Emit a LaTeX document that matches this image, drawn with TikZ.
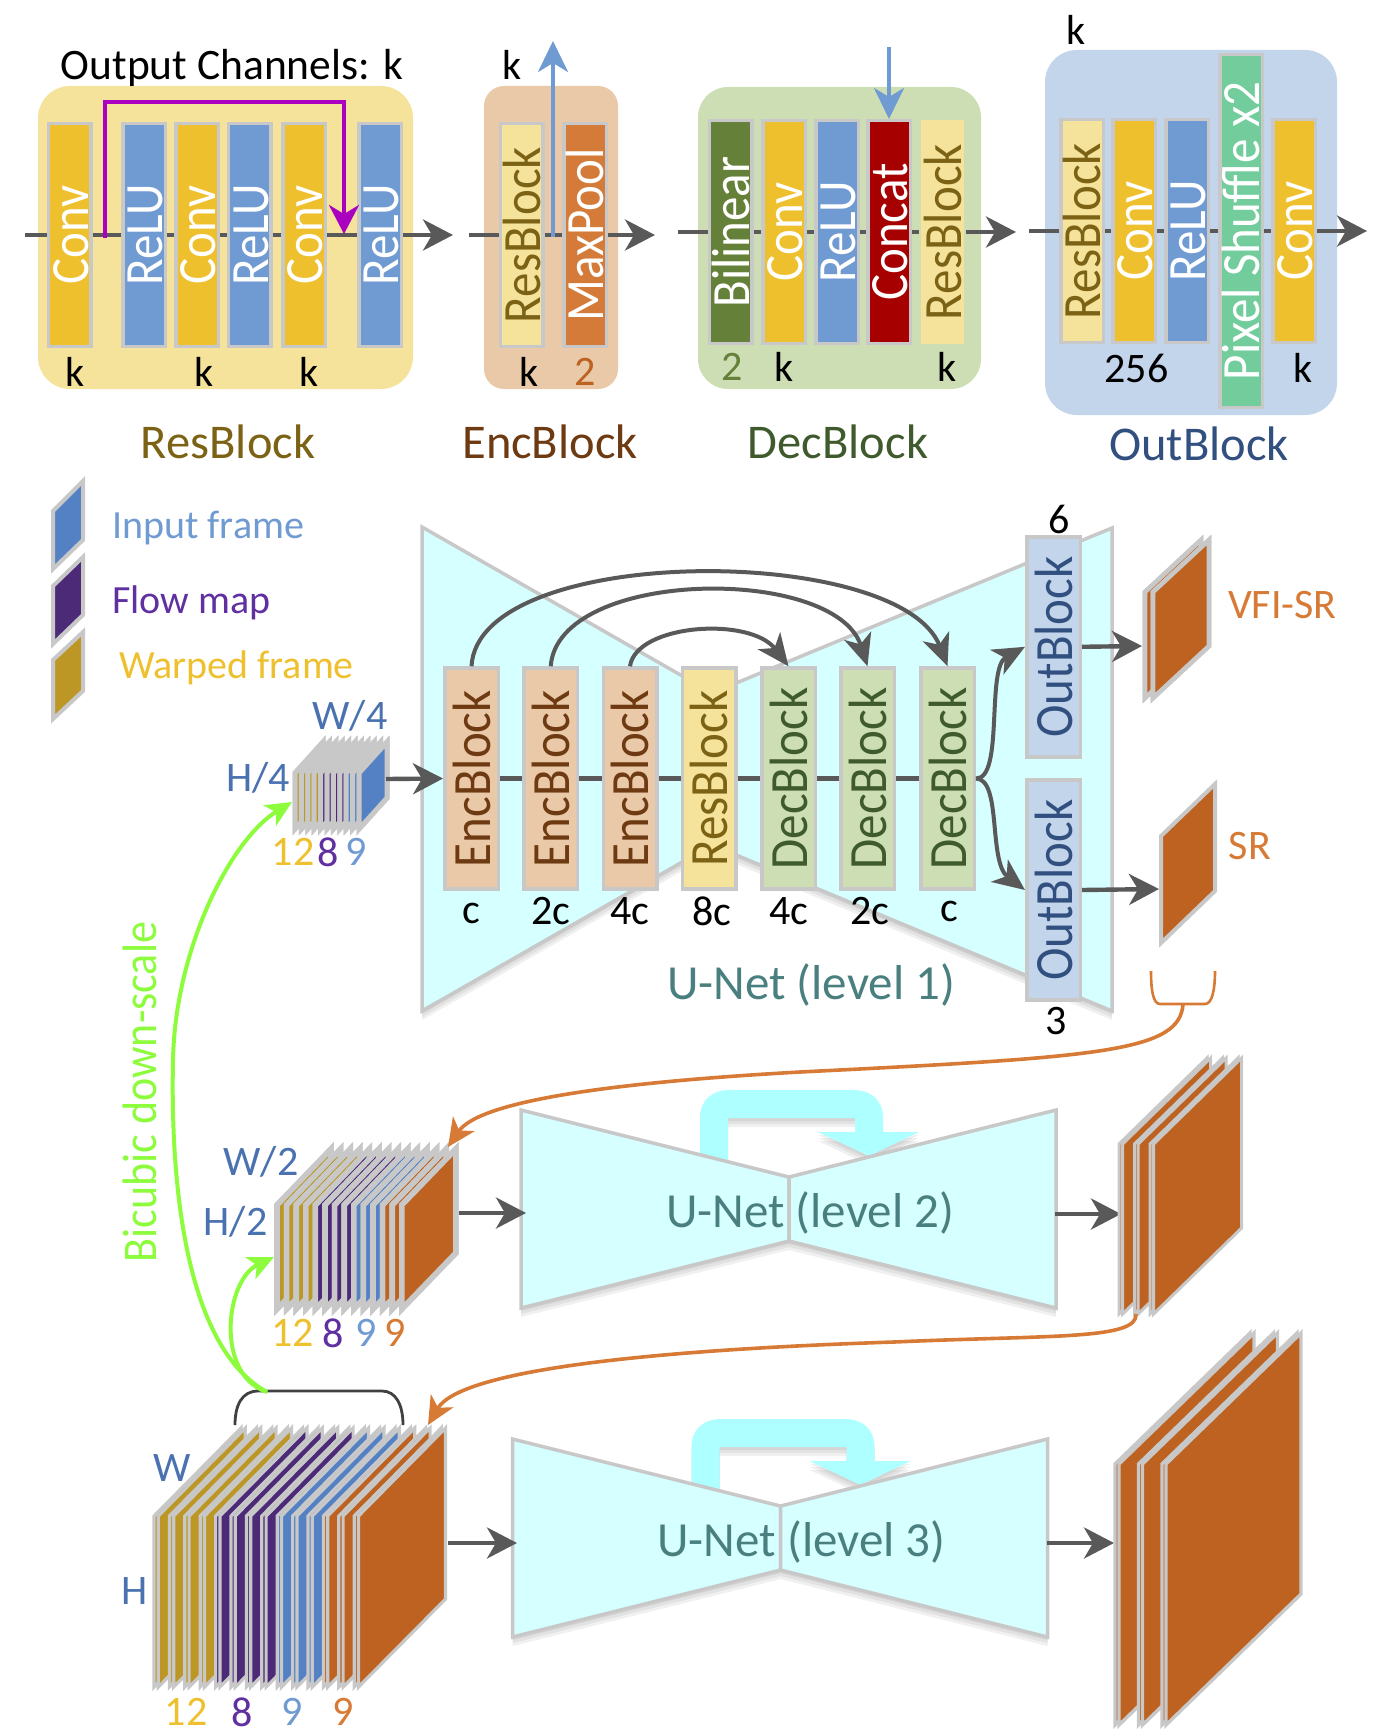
\documentclass[tikz,border=0pt]{standalone}
\usepackage{fontspec}
\usepackage{graphicx}
\usepackage{xcolor}
\usepackage{tikz}
\usetikzlibrary{calc,arrows.meta,positioning,shadows}
\setmainfont{Carlito}
\definecolor{convGold}{RGB}{239,192,46}
\definecolor{reluBlue}{RGB}{112,155,210}
\definecolor{resCream}{RGB}{246,227,155}
\definecolor{resText}{RGB}{123,98,21}
\definecolor{encPeach}{RGB}{234,201,169}
\definecolor{encText}{RGB}{110,58,18}
\definecolor{decSage}{RGB}{205,222,180}
\definecolor{decText}{RGB}{63,90,44}
\definecolor{decDark}{RGB}{100,128,57}
\definecolor{outSky}{RGB}{195,213,235}
\definecolor{outText}{RGB}{49,80,127}
\definecolor{poolOrange}{RGB}{212,123,57}
\definecolor{concatRed}{RGB}{166,0,0}
\definecolor{shuffleGreen}{RGB}{114,204,156}
\definecolor{skipPurple}{RGB}{170,0,192}
\definecolor{flowGray}{RGB}{89,89,89}
\definecolor{frameGray}{RGB}{200,200,200}
\definecolor{frameWarp}{RGB}{188,151,37}
\definecolor{frameFlow}{RGB}{76,42,120}
\definecolor{frameInput}{RGB}{84,129,196}
\definecolor{frameOut}{RGB}{189,98,32}
\definecolor{unetCyan}{RGB}{214,255,255}
\definecolor{skipCyan}{RGB}{174,255,255}
\definecolor{unetText}{RGB}{74,127,127}
\definecolor{dimBlue}{RGB}{74,114,176}
\definecolor{legendPurple}{RGB}{96,48,160}
\definecolor{arrowOrange}{RGB}{214,122,54}
\definecolor{scaleGreen}{RGB}{140,252,60}
\newcommand{\fsz}[1]{\fontsize{#1}{#1}\selectfont}
\newcommand{\barText}[1]{\rotatebox{90}{\scalebox{1}[1.1]{\rule{0pt}{.7em}\smash{#1}}}}
\newcommand{\frameStack}[9]{%
  \foreach \col [count=\n from 0] in {#8} {
    \pgfmathsetmacro{\fx}{#1+\n*#2}
    \pgfmathsetmacro{\gx}{\fx+#9}
    \filldraw[line width=#7pt, draw=frameGray, fill=\col] (\fx,#3) -- ++(#5,-#6) -- ++(0,#4) -- ++(-#5,#6) -- cycle;
    \filldraw[line width=#7pt, draw=frameGray, fill=\col] (\gx,#3) -- ++(#5,-#6) -- ++(0,#4) -- ++(-#5,#6) -- cycle;
  }}
\newcommand{\unetGlass}[2]{%
  \fill[skipCyan, softShadow] (700,1175) -- (700,1118) .. controls (700,1100) and (712,1090) .. (730,1090)
    -- (853,1090) .. controls (871,1090) and (883,1100) .. (883,1118) -- (883,1132) -- (919,1132) -- (869,1156)
    -- (818,1132) -- (855,1132) -- (855,1118) -- (728,1118) -- (728,1175) -- cycle;
  \filldraw[unetBody] (521,1110) -- (789,1177) -- (789,1241) -- (521,1308) -- cycle;
  \filldraw[unetBody] (1056,1110) -- (789,1177) -- (789,1241) -- (1056,1308) -- cycle;
  \node[unetLabel] (#1) at (810,1213) {#2};}
\tikzset{
  softShadow/.style={general shadow={fill=black,opacity=.06,shadow yshift=-3pt},general shadow={fill=black,opacity=.06,shadow yshift=-6pt},general shadow={fill=black,opacity=.06,shadow yshift=-9pt}},
  barNode/.style={draw=frameGray, line width=3.5pt, inner sep=0pt, minimum width=42.5pt, minimum height=222.5pt, font=\fsz{49}, text=white},
  wideBar/.style={barNode, minimum width=53.5pt, minimum height=221pt},
  convBar/.style={barNode, fill=convGold},
  reluBar/.style={barNode, fill=reluBlue},
  resBar/.style={barNode, fill=resCream, text=resText},
  encBar/.style={wideBar, fill=encPeach, text=encText},
  decBar/.style={wideBar, fill=decSage, text=decText},
  outBar/.style={wideBar, minimum height=220pt, fill=outSky, text=outText},
  flowLine/.style={flowGray, line width=4.4pt},
  flowArrow/.style={flowLine, -{Stealth[length=30pt,width=31pt,inset=9pt]}},
  skipArrow/.style={flowGray, line width=4pt, -{Stealth[length=32pt,width=28pt,inset=9pt]}},
  blueArrow/.style={reluBlue, line width=3.6pt, -{Stealth[length=31pt,width=30pt,inset=9pt]}},
  purpleArrow/.style={skipPurple, line width=3.6pt, -{Stealth[length=29pt,width=30pt,inset=9pt]}},
  orangeArrow/.style={arrowOrange, line width=3.6pt, -{Stealth[length=28pt,width=26pt,inset=8pt]}},
  greenArrow/.style={scaleGreen, line width=4pt, -{Stealth[length=26pt,width=24pt,inset=7pt]}},
  unetBody/.style={fill=unetCyan, draw=frameGray, line width=3.5pt, softShadow},
  unetLabel/.style={inner sep=0pt, text=unetText, font=\fsz{49}},
  sizeLabel/.style={inner sep=0pt, font=\fsz{42}, text=black},
  dimLabel/.style={sizeLabel, text=dimBlue},
  titleLabel/.style={inner sep=0pt, font=\fsz{48.5}},
  legendLabel/.style={inner sep=0pt, anchor=west, font=\fsz{40}},
}
\begin{document}
\begin{tikzpicture}[x=1pt,y=-1pt]
\useasboundingbox (0,0) rectangle (1383,1736);

% block panels
\fill[resCream, rounded corners=32pt] (38,86) rectangle (413,389);
\fill[encPeach, rounded corners=20pt] (484,86) rectangle (618,389);
\fill[decSage, rounded corners=30pt] (698,87) rectangle (981,389);
\fill[outSky, rounded corners=32pt] (1045,50) rectangle (1337,415);

% ResBlock
\node[convBar] (conv1) at (69.5,235) {\barText{Conv}};
\node[reluBar] (relu1) at (144,235) {\barText{ReLU}};
\node[convBar] (conv2) at (197,235) {\barText{Conv}};
\node[reluBar] (relu2) at (249.5,235) {\barText{ReLU}};
\node[convBar] (conv3) at (304,235) {\barText{Conv}};
\node[reluBar] (relu3) at (380,235) {\barText{ReLU}};
\coordinate (resIn) at (25,235);
\coordinate (resOut) at (453,235);
\coordinate (resTap) at (105,238);
\coordinate (resTop) at (344,102);
\coordinate (resMerge) at (344,234);
\draw[flowLine] (resIn) -- (conv1);
\foreach \a/\b in {conv1/relu1,relu1/conv2,conv2/relu2,relu2/conv3,conv3/relu3}
  \draw[flowLine] (\a) -- (\b);
\draw[flowArrow] (relu3) -- (resOut);
\draw[purpleArrow] (resTap) |- (resTop) -- (resMerge);

% EncBlock
\node[resBar] (encRes) at (521.5,235) {\barText{ResBlock}};
\node[barNode, fill=poolOrange] (encPool) at (585,235) {\barText{MaxPool}};
\coordinate (encIn) at (469,235);
\coordinate (encOut) at (655,235);
\coordinate (encTap) at (553,237);
\coordinate (encUp) at (553,41);
\draw[flowLine] (encIn) -- (encRes);
\draw[flowLine] (encRes) -- (encPool);
\draw[flowArrow] (encPool) -- (encOut);
\draw[blueArrow] (encTap) -- (encUp);

% DecBlock
\node[barNode, fill=decDark] (decBil) at (730.5,232) {\barText{Bilinear}};
\node[convBar] (decConv) at (784,232) {\barText{Conv}};
\node[reluBar] (decRelu) at (837,232) {\barText{ReLU}};
\node[barNode, fill=concatRed] (decCat) at (889,232) {\barText{Concat}};
\node[resBar, draw=none, minimum width=43pt, minimum height=223pt] (decRes) at (942.5,232) {\barText{ResBlock}};
\coordinate (decIn) at (678,232);
\coordinate (decOut) at (1016,232);
\coordinate (decDown) at (889,47);
\draw[flowLine] (decIn) -- (decBil);
\foreach \a/\b in {decBil/decConv,decConv/decRelu,decRelu/decCat,decCat/decRes}
  \draw[flowLine] (\a) -- (\b);
\draw[flowArrow] (decRes) -- (decOut);
\draw[blueArrow] (decDown) -- (decCat);

% OutBlock
\node[resBar] (outRes) at (1082,231) {\barText{ResBlock}};
\node[convBar] (outConv) at (1134,231) {\barText{Conv}};
\node[reluBar] (outRelu) at (1187,231) {\barText{ReLU}};
\node[barNode, fill=shuffleGreen, minimum height=353pt] (outPix) at (1241,231) {\barText{Pixel Shuffle x2}};
\node[convBar] (outLast) at (1294,231) {\barText{Conv}};
\coordinate (outIn) at (1029,231);
\coordinate (outOut) at (1367,231);
\draw[flowLine] (outIn) -- (outRes);
\foreach \a/\b in {outRes/outConv,outConv/outRelu,outRelu/outPix,outPix/outLast}
  \draw[flowLine] (\a) -- (\b);
\draw[flowArrow] (outLast) -- (outOut);

% numbers and titles of the blocks
\node[sizeLabel, font=\fsz{43.5}] (chanLabel) at (232,68) {Output Channels: k};
\node[sizeLabel] (resK1) at (75,372) {k};
\node[sizeLabel] (resK2) at (204,372) {k};
\node[sizeLabel] (resK3) at (309,372) {k};
\node[sizeLabel] (encKtop) at (512,65) {k};
\node[sizeLabel] (encK) at (529,372) {k};
\node[sizeLabel, text=frameOut] (encTwo) at (585,372) {2};
\node[sizeLabel, text=decDark] (decTwo) at (732,367) {2};
\node[sizeLabel] (decK1) at (784,367) {k};
\node[sizeLabel] (decK2) at (947,367) {k};
\node[sizeLabel] (outKtop) at (1076,30) {k};
\node[sizeLabel] (outNum) at (1136.5,368) {256};
\node[sizeLabel] (outK) at (1303,368) {k};
\node[titleLabel, text=resText] (resTitle) at (228,442) {ResBlock};
\node[titleLabel, text=encText] (encTitle) at (550,442) {EncBlock};
\node[titleLabel, text=decText] (decTitle) at (838,442) {DecBlock};
\node[titleLabel, text=outText] (outTitle) at (1199,444) {OutBlock};

% legend
\filldraw[line width=4pt, draw=frameGray, fill=frameInput] (53,511) -- (83,481) -- (83,540) -- (53,569) -- cycle;
\filldraw[line width=4pt, draw=frameGray, fill=frameFlow] (53,586) -- (83,557) -- (83,615) -- (53,644) -- cycle;
\filldraw[line width=4pt, draw=frameGray, fill=frameWarp] (53,660) -- (83,632) -- (83,691) -- (53,719) -- cycle;
\node[legendLabel, text=reluBlue] (legInput) at (112,528) {Input frame};
\node[legendLabel, text=legendPurple] (legFlow) at (112,603) {Flow map};
\node[legendLabel, text=convGold] (legWarp) at (119,668) {Warped frame};

% U-Net level 1
\filldraw[unetBody] (422,527) -- (712,693) -- (712,845) -- (422,1011) -- cycle;
\filldraw[unetBody] (1112,528) -- (712,693) -- (712,845) -- (1112,1011) -- cycle;
\node[encBar] (enc1) at (471.5,778.5) {\barText{EncBlock}};
\node[encBar] (enc2) at (550.7,778.5) {\barText{EncBlock}};
\node[encBar] (enc3) at (630,778.5) {\barText{EncBlock}};
\node[wideBar, fill=resCream, text=resText] (mid) at (709,778.5) {\barText{ResBlock}};
\node[decBar] (dec1) at (788.5,778.5) {\barText{DecBlock}};
\node[decBar] (dec2) at (867.5,778.5) {\barText{DecBlock}};
\node[decBar] (dec3) at (947.5,778.5) {\barText{DecBlock}};
\node[outBar] (out1) at (1053.5,646.8) {\barText{OutBlock}};
\node[outBar] (out2) at (1053.5,890) {\barText{OutBlock}};
\foreach \a/\b in {enc1/enc2,enc2/enc3,enc3/mid,mid/dec1,dec1/dec2,dec2/dec3}
  \draw[flowLine] (\a) -- (\b);
\draw[skipArrow] (enc1.north) .. controls (478,543) and (900,543) .. (dec3.north);
\draw[skipArrow] (enc2.north) .. controls (558,568) and (835,565) .. (dec2.north);
\draw[skipArrow] (enc3.north) .. controls (636,624) and (750,616) .. (dec1.north);
\draw[skipArrow] (dec3.east) .. controls (1004,779) and (986,668) .. (out1.west);
\draw[skipArrow] (dec3.east) .. controls (1002,779) and (988,862) .. (out2.west);
\node[sizeLabel] (sizeC1) at (471,913) {c};
\node[sizeLabel] (sizeC2) at (551,911) {2c};
\node[sizeLabel] (sizeC3) at (630,911) {4c};
\node[sizeLabel] (sizeC4) at (712,911) {8c};
\node[sizeLabel] (sizeC5) at (789,911) {4c};
\node[sizeLabel] (sizeC6) at (870,911) {2c};
\node[sizeLabel] (sizeC7) at (949.5,911) {c};
\node[sizeLabel] (sizeSix) at (1059,519) {6};
\node[sizeLabel] (sizeThree) at (1056,1021) {3};
\node[unetLabel] (levelOne) at (811,985) {U-Net (level 1)};

% outputs of level 1
\frameStack{1145}{8}{592}{106}{56}{52}{4.6}{frameOut,frameOut}{0}
\filldraw[line width=4pt, draw=frameGray, fill=frameOut] (1161,836) -- (1215,784) -- (1215,891) -- (1161,943) -- cycle;
\coordinate (vfiIn) at (1142,646);
\coordinate (srIn) at (1159,889);
\draw[flowArrow] (out1.east) -- (vfiIn);
\draw[flowArrow] (out2.east) -- (srIn);
\node[titleLabel, font=\fsz{42}, text=arrowOrange] (vfiLabel) at (1282.5,605) {VFI-SR};
\node[titleLabel, font=\fsz{42}, text=arrowOrange] (srLabel) at (1250,846) {SR};

% input stacks
\frameStack{295}{6.4}{773}{56}{28}{31}{5}{frameWarp,frameWarp,frameWarp,frameWarp,frameFlow,frameFlow,frameFlow,frameFlow,frameInput,frameInput,frameInput}{0}
\frameStack{277}{9.6}{1205}{104}{54}{56}{5.6}{frameWarp,frameWarp,frameWarp,frameWarp,frameFlow,frameFlow,frameFlow,frameFlow,frameInput,frameInput,frameInput,frameOut,frameOut,frameOut}{0}
\frameStack{154}{15.4}{1516}{171}{87}{88}{3.2}{frameWarp,frameWarp,frameWarp,frameWarp,frameFlow,frameFlow,frameFlow,frameFlow,frameInput,frameInput,frameInput,frameOut,frameOut,frameOut}{4.3}

\node[dimLabel] (smallW) at (350,716) {W/4};
\node[dimLabel] (smallH) at (258,778) {H/4};
\node[sizeLabel, text=convGold] (smallA) at (293,852) {12};
\node[sizeLabel, text=legendPurple] (smallB) at (328,852) {8};
\node[sizeLabel, text=reluBlue] (smallC) at (356,852) {9};
\node[dimLabel] (midW) at (261,1162) {W/2};
\node[dimLabel] (midH) at (235.5,1222) {H/2};
\node[sizeLabel, text=convGold] (midA) at (292.5,1333) {12};
\node[sizeLabel, text=legendPurple] (midB) at (333,1333) {8};
\node[sizeLabel, text=reluBlue] (midC) at (366,1333) {9};
\node[sizeLabel, text=arrowOrange] (midD) at (395,1333) {9};
\node[dimLabel] (bigW) at (172,1468) {W};
\node[dimLabel] (bigH) at (135,1591) {H};
\node[sizeLabel, text=convGold] (bigA) at (186,1712) {12};
\node[sizeLabel, text=legendPurple] (bigB) at (242,1712) {8};
\node[sizeLabel, text=reluBlue] (bigC) at (292,1712) {9};
\node[sizeLabel, text=arrowOrange] (bigD) at (343,1712) {9};

% U-Net level 2 and 3
\unetGlass{levelTwo}{U-Net (level 2)}
\begin{scope}[shift={(-8.5,329)}]
\unetGlass{levelThree}{U-Net (level 3)}
\end{scope}
\coordinate (smallOut) at (386,779);
\coordinate (smallIn) at (292,802);
\coordinate (midOut) at (459,1213);
\coordinate (midNetIn) at (526,1213);
\coordinate (midNetOut) at (1055,1214);
\coordinate (midStackIn) at (1121,1214);
\coordinate (midIn) at (274,1257);
\coordinate (midTop) at (448,1147);
\coordinate (bigOut) at (448,1543);
\coordinate (bigNetIn) at (517,1543);
\coordinate (bigNetOut) at (1047,1543);
\coordinate (bigStackIn) at (1114,1543);
\coordinate (bigTop) at (428,1425);
\draw[flowArrow] (smallOut) -- (enc1.west);
\draw[flowArrow] (midOut) -- (midNetIn);
\draw[flowArrow] (midNetOut) -- (midStackIn);
\draw[flowArrow] (bigOut) -- (bigNetIn);
\draw[flowArrow] (bigNetOut) -- (bigStackIn);

% outputs of level 2 and 3
\frameStack{1119}{15.5}{1144}{170}{88}{86}{3}{frameOut,frameOut,frameOut}{3.6}
\frameStack{1115}{23.5}{1464}{261}{135}{131}{3.4}{frameOut,frameOut,frameOut}{4}

% orange feedback
\draw[arrowOrange, line width=2.6pt] (1151,971) .. controls (1151,990) and (1153,1004) .. (1160,1004) -- (1205,1004) .. controls (1212,1004) and (1215,990) .. (1215,971);
\coordinate (srTap) at (1183,1004);
\coordinate (midTap) at (1136,1314);
\draw[orangeArrow] (srTap) .. controls (1180,1052) and (1100,1057) .. (800,1072) .. controls (620,1082) and (480,1100) .. (midTop);
\draw[orangeArrow] (midTap) .. controls (1138,1340) and (1050,1335) .. (894,1342) .. controls (650,1350) and (460,1370) .. (bigTop);

% bicubic down-scale
\draw[black!75, line width=2.8pt] (235,1425) .. controls (235,1405) and (242,1391) .. (258,1391) -- (382,1391) .. controls (396,1391) and (403,1405) .. (403,1425);
\coordinate (scaleTap) at (267,1392);
\draw[greenArrow] (scaleTap) .. controls (215,1375) and (225,1280) .. (midIn);
\draw[greenArrow] (scaleTap) .. controls (190,1350) and (170,1200) .. (173,1060) .. controls (175,950) and (230,840) .. (smallIn);
\node[inner sep=0pt, text=scaleGreen, font=\fsz{44}] (scaleLabel) at (140,1092) {\barText{Bicubic down-scale}};
\end{tikzpicture}
\end{document}
